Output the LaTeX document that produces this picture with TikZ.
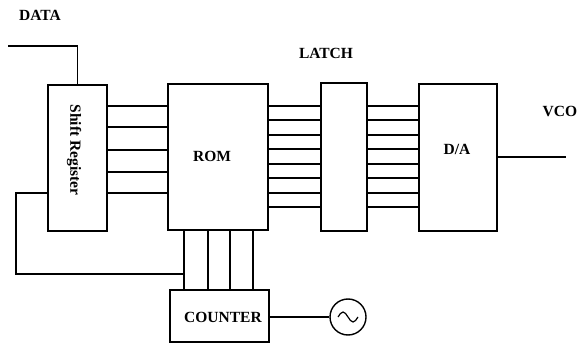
\documentclass[tikz,border=0pt]{standalone}
\usepackage{fontspec}
\setmainfont{Liberation Serif}
\begin{document}
\begin{tikzpicture}[x=1pt,y=-1pt,line width=1.4pt,
  blk/.style={draw,rectangle,minimum width=#1,inner sep=0pt},
  lbl/.style={font=\fontsize{15.5}{15.5}\selectfont\bfseries,inner sep=0pt},
  wire/.style={line width=1.5pt}]
\useasboundingbox (0,0) rectangle (577,344);
% blocks
\node[blk=59pt,minimum height=146pt] (sr) at (77.5,158) {};
\node[blk=100pt,minimum height=146pt] (rom) at (218,157) {};
\node[blk=46pt,minimum height=148pt] (latch) at (344,157) {};
\node[blk=78pt,minimum height=147pt] (da) at (458,157.5) {};
\node[blk=99pt,minimum height=52pt] (counter) at (219.5,316) {};
\node[draw,circle,minimum size=36pt,inner sep=0pt] (osc) at (348,317) {};
% labels
\node[lbl,rotate=-90] (srt) at (74,150) {Shift Register};
\node[lbl] (romt) at (212,156) {ROM};
\node[lbl] (dat) at (457,149) {D/A};
\node[lbl] (cntt) at (223,317) {COUNTER};
\node[lbl] (datat) at (40,15) {DATA};
\node[lbl] (latcht) at (326,53) {LATCH};
\node[lbl,anchor=west] (vcot) at (542,111) {VCO};
% data input
\coordinate (din) at (8,46);
\draw[wire] (din) -| (sr.north);
% shift register -> ROM
\foreach \y in {106,127,150,172,193}
  \draw[wire] (sr.east |- 0,\y) -- (rom.west |- 0,\y);
% ROM -> latch -> D/A
\foreach \yy in {106,120,135,149,164,178,193,207}{
  \draw[wire] (rom.east |- 0,\yy) -- (latch.west |- 0,\yy);
  \draw[wire] (latch.east |- 0,\yy) -- (da.west |- 0,\yy);
}
% ROM <-> counter
\foreach \x in {184,208,230,253}
  \draw[wire] (rom.south -| \x,0) -- (counter.north -| \x,0);
% feedback loop
\coordinate (fbA) at (16,193);
\coordinate (fbB) at (16,274);
\coordinate (fbC) at (184,274);
\draw[wire] (sr.west |- fbA) -- (fbA) -- (fbB) -- (fbC);
% D/A -> VCO
\coordinate (vco) at (566,157);
\draw[wire] (da.east |- vco) -- (vco);
% counter -> oscillator
\draw[wire] (counter.east |- osc.west) -- (osc.west);
\draw[line width=1.2pt] ([xshift=-10pt]osc.center) sin +(5,-5) cos +(5,5) sin +(5,5) cos +(5,-5);
\end{tikzpicture}
\end{document}
